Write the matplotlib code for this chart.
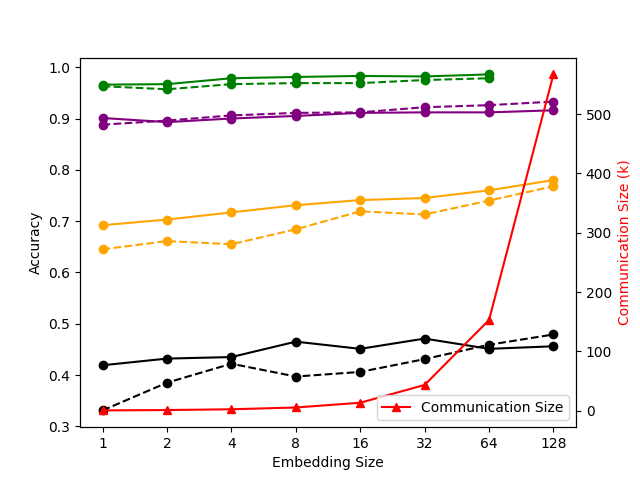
import matplotlib
matplotlib.use("Agg")
import matplotlib.pyplot as plt
import numpy as np

emb_sizes = ['1', '2', '4', '8', '16', '32', '64', '128']

green_solid = [0.966, 0.967, 0.9785, 0.981, 0.983, 0.982, 0.986]
green_dashed = [0.963, 0.957, 0.967, 0.969, 0.969, 0.975, 0.9785]
purple_solid = [0.901, 0.893, 0.900, 0.905, 0.911, 0.912, 0.912, 0.916]
purple_dashed = [0.888, 0.896, 0.906, 0.911, 0.912, 0.922, 0.926, 0.933]
orange_solid = [0.692, 0.703, 0.717, 0.731, 0.741, 0.745, 0.760, 0.780]
orange_dashed = [0.645, 0.661, 0.655, 0.684, 0.719, 0.713, 0.740, 0.768]
black_solid = [0.419, 0.432, 0.435, 0.465, 0.451, 0.471, 0.451, 0.456]
black_dashed = [0.331, 0.385, 0.422, 0.397, 0.406, 0.431, 0.459, 0.479]

comm_size = [0.6, 1.2, 2.5, 5.5, 13.5, 43.5, 153, 567]

x = np.arange(len(emb_sizes))

fig, ax1 = plt.subplots()

# Genauigkeit (linke Achse)
ax1.plot(x[:len(green_solid)], green_solid, marker='o', linestyle='-', color='green')
ax1.plot(x[:len(green_dashed)], green_dashed, marker='o', linestyle='--', color='green')
ax1.plot(x, purple_solid, marker='o', linestyle='-', color='purple')
ax1.plot(x, purple_dashed, marker='o', linestyle='--', color='purple')
ax1.plot(x, orange_solid, marker='o', linestyle='-', color='orange')
ax1.plot(x, orange_dashed, marker='o', linestyle='--', color='orange')
ax1.plot(x, black_solid, marker='o', linestyle='-', color='black')
ax1.plot(x, black_dashed, marker='o', linestyle='--', color='black')

ax1.set_xticks(x)
ax1.set_xticklabels(emb_sizes)
ax1.set_xlabel('Embedding Size')
ax1.set_ylabel('Accuracy')

# Kommunikationsgröße (rechte Achse)
ax2 = ax1.twinx()
ax2.plot(x, comm_size, marker='^', linestyle='-', color='red', label='Communication Size')
ax2.set_ylabel('Communication Size (k)', color='red')
ax2.legend(loc='lower right')

plt.savefig('out.png')
